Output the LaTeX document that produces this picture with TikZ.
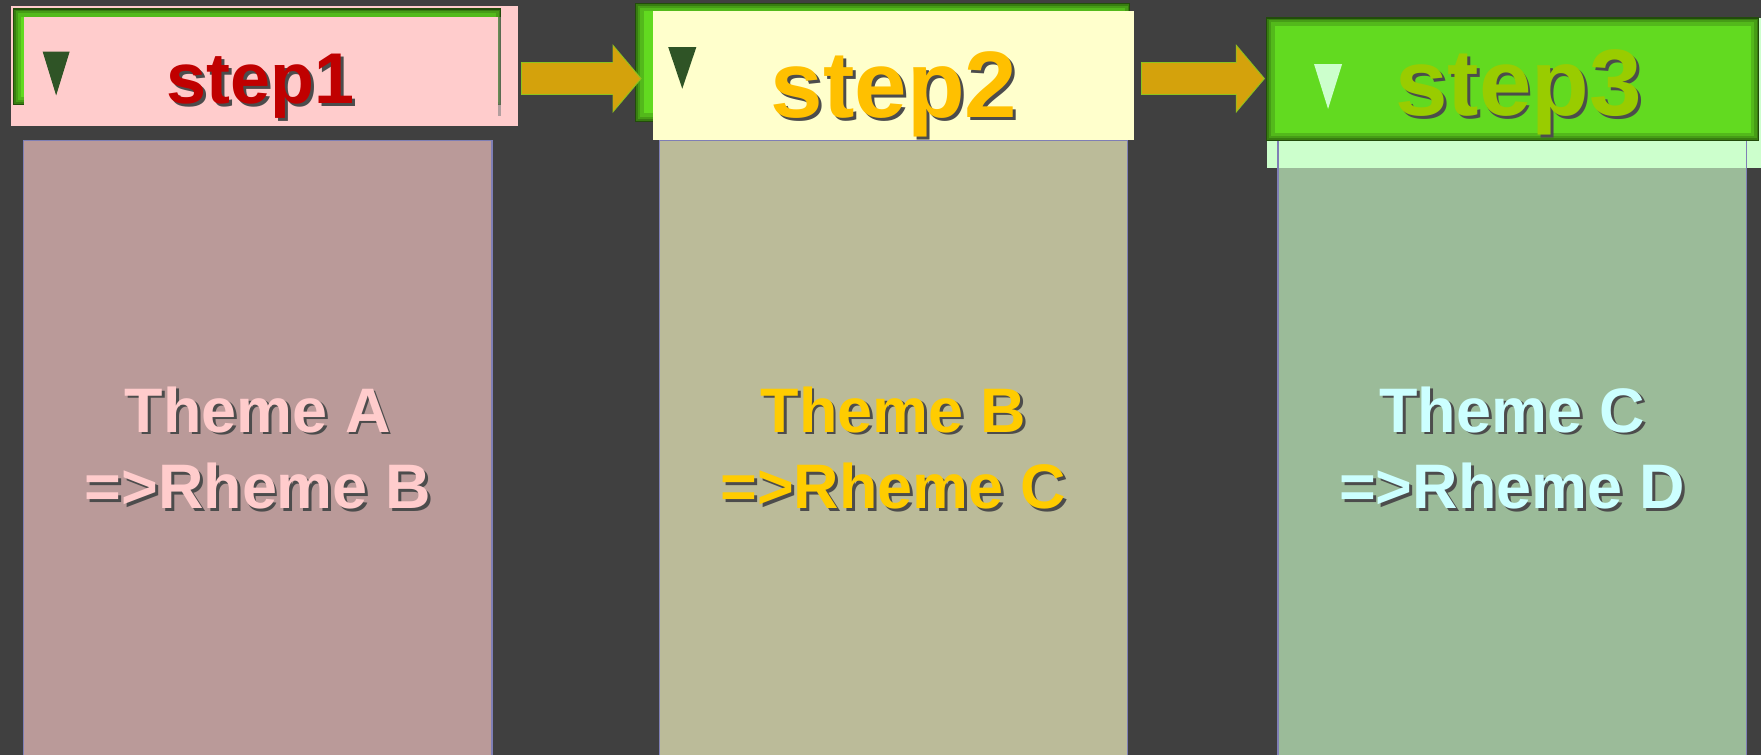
\documentclass[tikz,border=0pt]{standalone}
\usepackage{fontspec}
\setmainfont{Liberation Sans}
\usetikzlibrary{arrows.meta,shadows}

\definecolor{bggray}{HTML}{404040}
\definecolor{hdgreen}{HTML}{62DA20}
\definecolor{hdpink}{HTML}{FFCCCC}
\definecolor{hdcream}{HTML}{FFFFCC}
\definecolor{hdmint}{HTML}{CCFFCC}
\definecolor{colA}{HTML}{BA9A99}
\definecolor{colB}{HTML}{BBBB99}
\definecolor{colC}{HTML}{9BBB99}
\definecolor{colline}{HTML}{7F7FB5}
\definecolor{stepred}{HTML}{C00000}
\definecolor{stepgold}{HTML}{FFC000}
\definecolor{stepolive}{HTML}{99CC00}
\definecolor{themegold}{HTML}{FFCC00}
\definecolor{themecyan}{HTML}{CCFFFF}
\definecolor{tridark}{HTML}{2F5426}
\definecolor{arrgold}{HTML}{D4A20C}
\definecolor{arredge}{HTML}{8DC21F}

% text with a dark shadow behind it
\newcommand{\shd}[2]{\makebox[0pt][l]{\hspace{1.3pt}\raisebox{-1.3pt}{\color{black!70}#2}}\textcolor{#1}{#2}}

\begin{document}
\begin{tikzpicture}
[x=0.5pt,y=-0.5pt,%
  every node/.style={inner sep=0pt,outer sep=0pt,font=\bfseries},%
  box/.style={rectangle,anchor=north west},%
  glowbox/.style={box,fill=hdgreen,draw=hdgreen!35!black,line width=0.5pt,
    path picture={
      \draw[black,opacity=0.15,line width=7pt] (path picture bounding box.north west)
        rectangle (path picture bounding box.south east);
      \draw[black,opacity=0.15,line width=4pt] (path picture bounding box.north west)
        rectangle (path picture bounding box.south east);
      \draw[black,opacity=0.2,line width=2pt] (path picture bounding box.north west)
        rectangle (path picture bounding box.south east);}},%
  column/.style={box,draw=colline,line width=0.6pt,minimum width=208.5pt,
    minimum height=275pt,align=center,font=\bfseries\fontsize{28}{34}\selectfont},%
  steptext/.style={anchor=base,font=\bfseries\fontsize{42}{42}\selectfont},%
  arrowedge/.style={arredge,line width=15pt,-{Triangle[length=13pt,width=30pt]}},%
  blockarrow/.style={arrgold,line width=14pt,-{Triangle[length=12pt,width=28pt]}}]
\useasboundingbox (0,0) rectangle (1568,672);
\fill[bggray] (0,0) rectangle (1568,672);

% step 1
\node[box,fill=hdpink,minimum width=225.5pt,minimum height=53.5pt] (p1) at (10,5) {};
\node[glowbox,minimum width=217pt,minimum height=42.5pt] (g1) at (12,8) {};
\node[box,fill=hdpink,drop shadow={shadow xshift=1.5pt,shadow yshift=0pt,opacity=0.6},
  minimum width=211pt,minimum height=44pt] (i1) at (21,15) {};
\fill[tridark] (38,46) -- (62,46) -- (50,85) -- cycle;
\node[steptext,font=\bfseries\fontsize{32}{32}\selectfont] (s1) at (232,92) {\shd{stepred}{step1}};
\node[column,fill=colA] (c1) at (21,125)
  {\shd{hdpink}{Theme A}\\\shd{hdpink}{=>Rheme B}};

% step 2
\node[glowbox,minimum width=220pt,minimum height=52.5pt] (g2) at (566,3) {};
\node[box,fill=hdcream,minimum width=214.5pt,minimum height=57.5pt] (i2) at (581,10) {};
\fill[tridark] (595,42) -- (620,42) -- (607.5,79) -- cycle;
\node[steptext] (s2) at (796,105) {\shd{stepgold}{step2}};
\node[column,fill=colB] (c2) at (587,125)
  {\shd{themegold}{Theme B}\\\shd{themegold}{=>Rheme C}};

% step 3
\node[box,fill=hdmint,minimum width=220pt,minimum height=67pt] (m3) at (1128,16) {};
\node[column,fill=colC,path picture={\fill[hdmint] (path picture bounding box.north west)
    rectangle ([yshift=-12.5pt]path picture bounding box.north east);}] (c3) at (1138,125)
  {\shd{themecyan}{Theme C}\\\shd{themecyan}{=>Rheme D}};
\node[glowbox,minimum width=219pt,minimum height=54.5pt] (g3) at (1128,16) {};
\fill[hdmint] (1170,57) -- (1195,57) -- (1182.5,97) -- cycle;
\node[steptext] (s3) at (1352,103) {\shd{stepolive}{step3}};

% arrows
\coordinate (a1s) at (465,70);
\coordinate (a1e) at (570,70);
\coordinate (a2s) at (1017,70);
\coordinate (a2e) at (1125,70);
\draw[arrowedge] ([xshift=-0.5pt]a1s) -- ([xshift=0.7pt]a1e);
\draw[blockarrow] (a1s) -- (a1e);
\draw[arrowedge] ([xshift=-0.5pt]a2s) -- ([xshift=0.7pt]a2e);
\draw[blockarrow] (a2s) -- (a2e);
\end{tikzpicture}
\end{document}
